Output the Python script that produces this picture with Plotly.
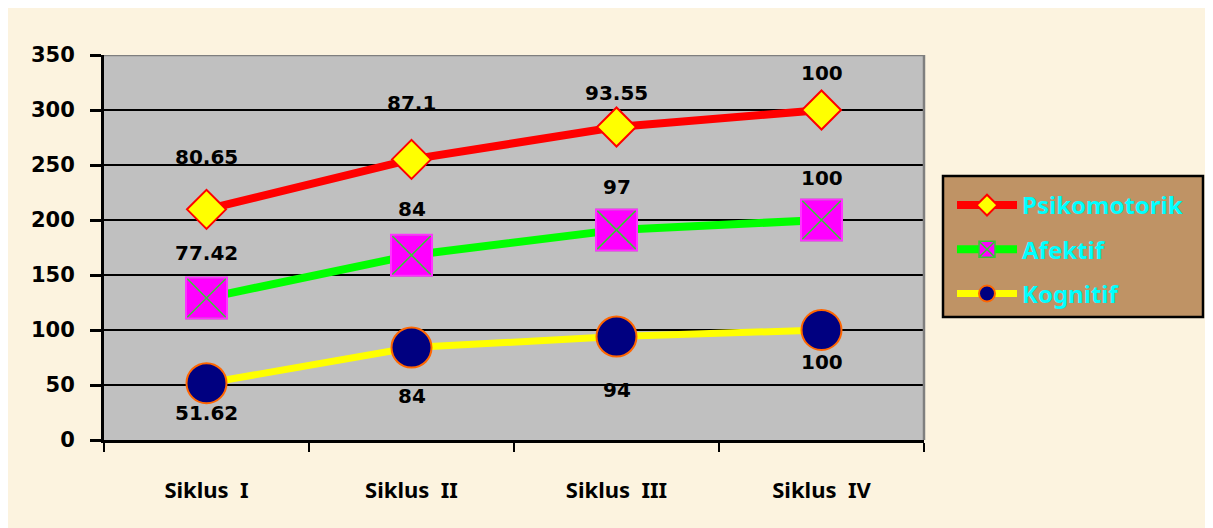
import plotly.graph_objects as go

categories = ["Siklus I", "Siklus II", "Siklus III", "Siklus IV"]
kognitif = [51.62, 84, 94, 100]
afektif = [77.42, 84, 97, 100]
psikomotorik = [80.65, 87.1, 93.55, 100]
y_ticks = [0, 50, 100, 150, 200, 250, 300, 350]

# stacked line values (Excel "stacked line" chart)
afektif_stack = [k + a for k, a in zip(kognitif, afektif)]
psiko_stack = [s + p for s, p in zip(afektif_stack, psikomotorik)]

# label offsets (pixels) for the data labels, as placed in the original
psiko_shift = [52, 56, 34, 37]
afektif_shift = [45, 46, 43, 42]
kognitif_shift = [-30, -48, -53, -32]

NUMFONT = "DejaVu Sans"
TXTFONT = "Noto Sans"

fig = go.Figure()
fig.add_trace(go.Scatter(
    x=categories, y=psiko_stack, name="Psikomotorik", mode="lines+markers",
    line=dict(color="#ff0000", width=8), legendgroup="p",
    marker=dict(symbol="diamond", size=30, color="#ffff00",
                line=dict(color="#ff0000", width=2)),
    hoverinfo="skip"))
fig.add_trace(go.Scatter(
    x=categories, y=afektif_stack, name="Afektif", mode="lines+markers",
    line=dict(color="#00ff00", width=8), legendgroup="a",
    marker=dict(symbol="square-x", size=41, color="#ff00ff",
                line=dict(color="#33cc33", width=1.5)),
    hoverinfo="skip"))
# magenta outline over the squares (border is magenta in the original)
fig.add_trace(go.Scatter(
    x=categories, y=afektif_stack, mode="markers", showlegend=False,
    legendgroup="a",
    marker=dict(symbol="square-open", size=41, color="#ff33ff",
                line=dict(color="#ff33ff", width=2)),
    hoverinfo="skip"))
fig.add_trace(go.Scatter(
    x=categories, y=kognitif, name="Kognitif", mode="lines+markers",
    line=dict(color="#ffff00", width=7), legendgroup="k",
    marker=dict(symbol="circle", size=40, color="#000080",
                line=dict(color="#ff6600", width=2)),
    hoverinfo="skip"))

annotations = []
for vals, ys, shifts in [(psikomotorik, psiko_stack, psiko_shift),
                         (afektif, afektif_stack, afektif_shift),
                         (kognitif, kognitif, kognitif_shift)]:
    for c, v, y, s in zip(categories, vals, ys, shifts):
        annotations.append(dict(
            x=c, y=y, text=f"{v:g}", showarrow=False, yshift=s,
            font=dict(family=NUMFONT, size=20, color="black", weight="bold")))

# figure sits inside the page's 8px body margin
W, H = 1205, 520
L, R, T, B = 96, 289, 47, 88
pw, ph = W - L - R, H - T - B


def px(x):
    return (x - L) / pw


def py(y):
    return (H - B - y) / ph


shapes = [
    # legend box (wood)
    dict(type="rect", xref="paper", yref="paper", x0=px(935), x1=px(1195),
         y0=py(309), y1=py(168), fillcolor="#bf9365",
         line=dict(color="black", width=2.5), layer="below"),
    # grey top and right border of plot area
    dict(type="line", xref="paper", yref="y", x0=0, x1=1, y0=350, y1=350,
         line=dict(color="#7f7f7f", width=2.5), layer="above"),
    dict(type="line", xref="paper", yref="paper", x0=1, x1=1, y0=0, y1=1,
         line=dict(color="#7f7f7f", width=2.5), layer="above"),
]

fig.update_layout(
    width=W, height=H,
    margin=dict(l=L, r=R, t=T, b=B, pad=0),
    paper_bgcolor="#fcf3df",
    plot_bgcolor="#c0c0c0",
    font=dict(family=TXTFONT, color="black"),
    showlegend=True,
    legend=dict(x=px(944), y=py(175), xanchor="left", yanchor="top",
                bgcolor="rgba(0,0,0,0)", borderwidth=0, itemwidth=60,
                traceorder="grouped", tracegroupgap=10,
                font=dict(family=TXTFONT, size=24, color="#00ffff", weight="bold")),
    shapes=shapes,
    annotations=annotations,
    xaxis=dict(
        type="category", categoryorder="array", categoryarray=categories,
        range=[-0.5, len(categories) - 0.5],
        tickvals=categories,
        ticktext=[c.replace(" ", "\u00a0\u00a0") for c in categories],
        tickson="boundaries", ticks="outside", ticklen=9, tickwidth=2,
        tickcolor="black", showline=True, linecolor="black", linewidth=3,
        showgrid=False, ticklabelstandoff=29,
        tickfont=dict(family=TXTFONT, size=22, color="black", weight="bold"),
        fixedrange=True),
    yaxis=dict(
        range=[0, 350], tickvals=y_ticks, ticks="outside", ticklen=11,
        tickwidth=2.5, tickcolor="black", showline=True, linecolor="black",
        linewidth=3, showgrid=True, gridcolor="black", gridwidth=2,
        zeroline=False, ticklabelstandoff=11,
        tickfont=dict(family=NUMFONT, size=21, color="black", weight="bold"),
        fixedrange=True),
)

fig.write_html("out.html")
